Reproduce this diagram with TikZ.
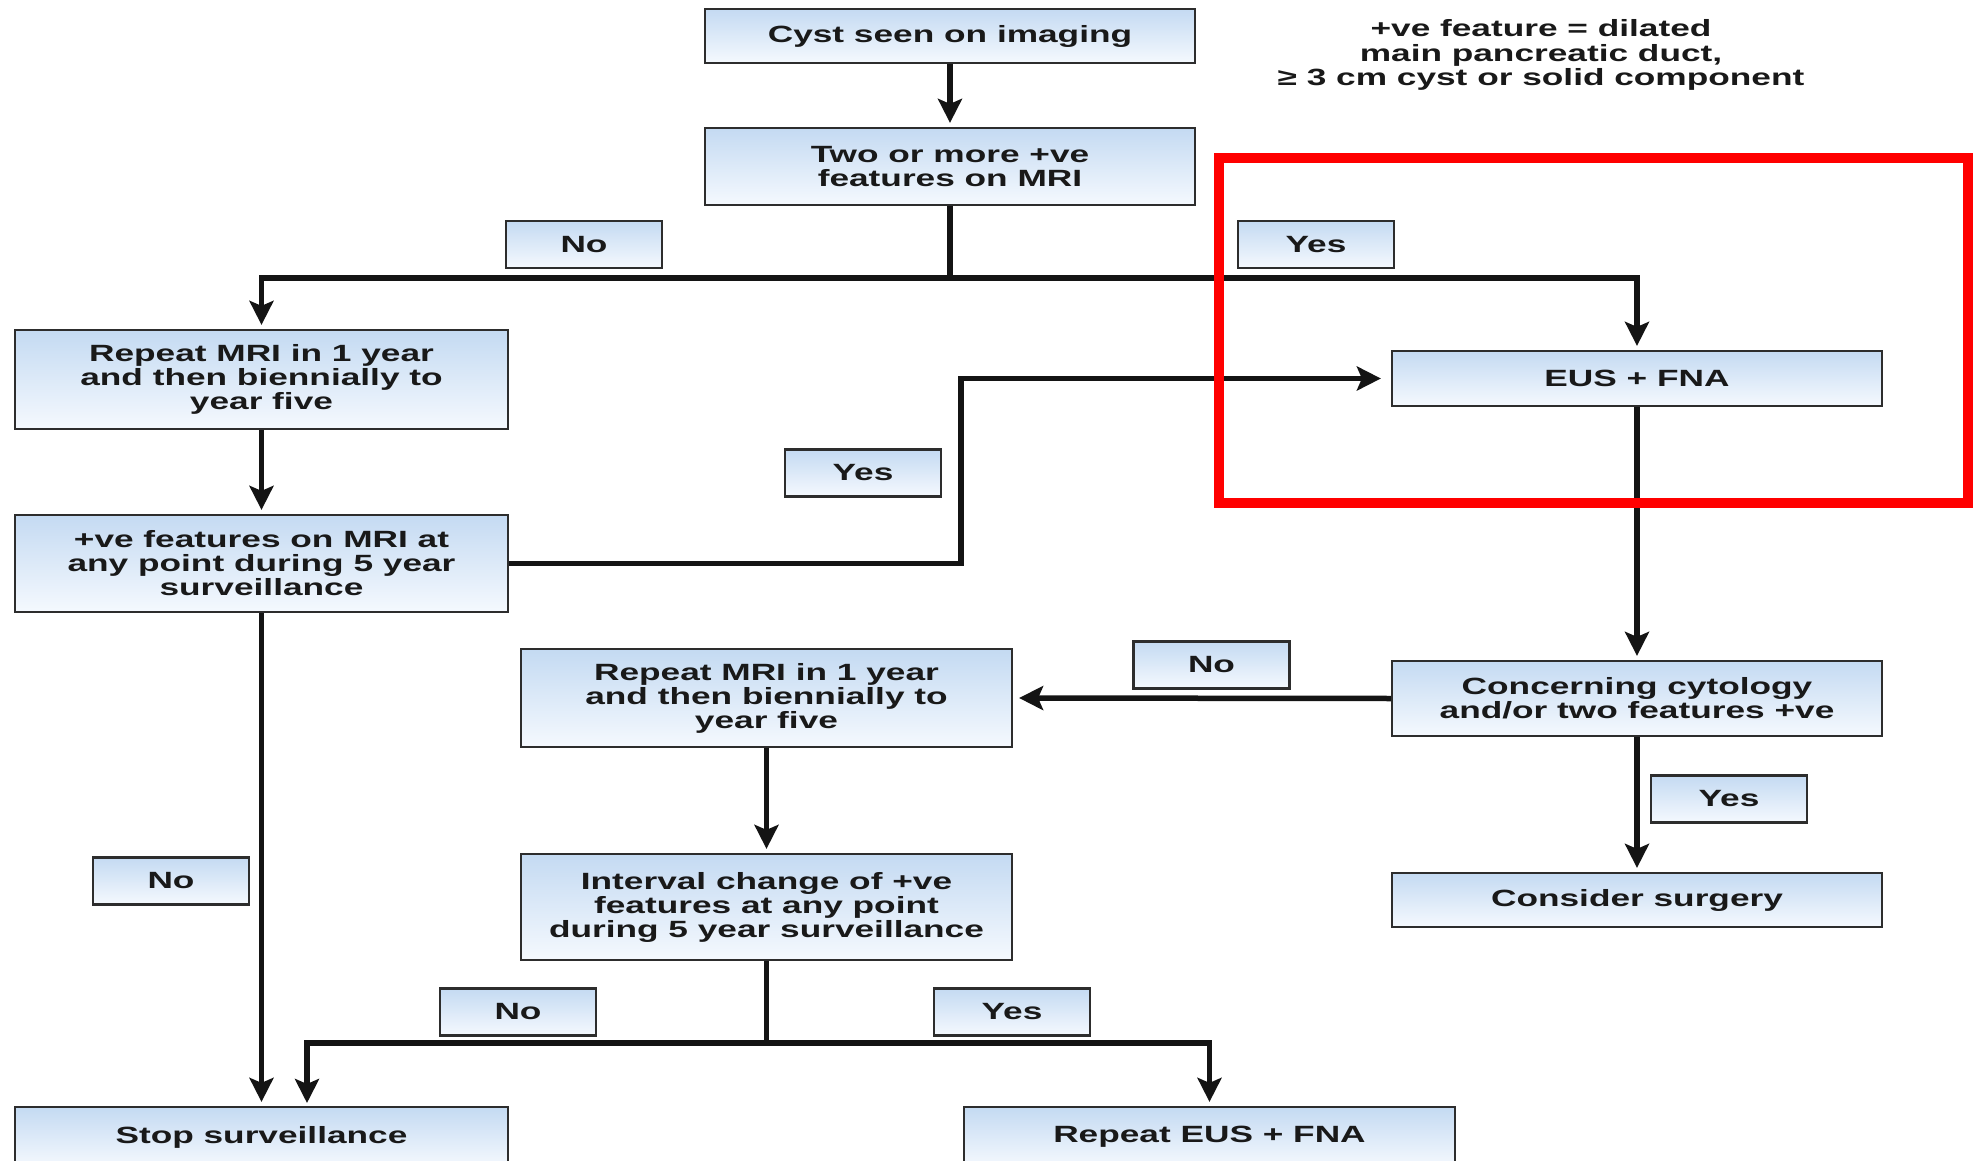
\documentclass[tikz,border=0pt]{standalone}
\usepackage{fontspec}
\newfontfamily\lbfont{Liberation Sans}[FakeStretch=1.5]
\usetikzlibrary{arrows.meta}
\definecolor{boxtop}{RGB}{196,218,242}
\definecolor{boxbot}{RGB}{245,249,254}
\definecolor{boxline}{RGB}{45,45,45}
\definecolor{conn}{RGB}{20,20,20}
\tikzset{
  fbox/.style={draw=boxline, line width=2.2pt, top color=boxtop, bottom color=boxbot,
    inner sep=0pt, align=center, text=black!90,
    font=\lbfont\bfseries\fontsize{23.5}{24}\selectfont},
  lbl/.style={fbox, minimum width=156pt, minimum height=47pt},
  ln/.style={line width=5.5pt, draw=conn},
  arr/.style={ln, -{Stealth[length=24pt,width=24pt,inset=5pt]}, shorten >=4pt},
}
\begin{document}
\begin{tikzpicture}[x=1pt,y=-1pt]
\useasboundingbox (0,0) rectangle (1973,1161);
\clip (0,0) rectangle (1973,1161);
\fill[white] (0,0) rectangle (1973,1161);

% main boxes
\node[fbox, minimum width=490pt, minimum height=54pt] (cyst) at (950,36) {Cyst seen on imaging};
\node[fbox, minimum width=490pt, minimum height=77pt] (two) at (950,166.5) {Two or more +ve\\features on MRI};
\node[fbox, minimum width=493pt, minimum height=99pt] (rep1) at (261.5,379.5) {Repeat MRI in 1 year\\and then biennially to\\year five};
\node[fbox, minimum width=490pt, minimum height=55pt] (eus) at (1637,378.5) {EUS + FNA};
\node[fbox, minimum width=493pt, minimum height=97pt] (pos) at (261.5,563.5) {+ve features on MRI at\\any point during 5 year\\surveillance};
\node[fbox, minimum width=491pt, minimum height=98pt] (rep2) at (766.5,698) {Repeat MRI in 1 year\\and then biennially to\\year five};
\node[fbox, minimum width=490pt, minimum height=75pt] (conc) at (1637,698.5) {Concerning cytology\\and/or two features +ve};
\node[fbox, minimum width=490pt, minimum height=54pt] (surg) at (1637,900) {Consider surgery};
\node[fbox, minimum width=491pt, minimum height=106pt] (intv) at (766.5,907) {Interval change of +ve\\features at any point\\during 5 year surveillance};
\node[fbox, minimum width=493pt, minimum height=60pt] (stop) at (261.5,1137) {Stop surveillance};
\node[fbox, minimum width=491pt, minimum height=60pt] (rep3) at (1209.5,1137) {Repeat EUS + FNA};

% yes / no labels
\node[lbl] (noA) at (584,244.5) {No};
\node[lbl] (yesA) at (1316,244.5) {Yes};
\node[lbl] (yesB) at (863,473) {Yes};
\node[lbl] (noB) at (1211.5,665) {No};
\node[lbl] (yesC) at (1729,799) {Yes};
\node[lbl] (noC) at (171,881) {No};
\node[lbl] (noD) at (518,1012) {No};
\node[lbl] (yesD) at (1012,1012) {Yes};

% note
\node[align=center, text=black!90, font=\lbfont\bfseries\fontsize{23.5}{24.5}\selectfont] (note) at (1541,55)
  {+ve feature = dilated\\main pancreatic duct,\\≥ 3 cm cyst or solid component};

% connectors
\coordinate (sp) at (950,278);
\draw[arr] (cyst.south) -- (two.north);
\draw[ln] (two.south) -- (sp);
\draw[arr] (sp) -| (rep1.north);
\draw[arr] (sp) -| (eus.north);
\draw[arr] (rep1.south) -- (pos.north);
\coordinate (jog) at (961,470);
\draw[arr, shorten >=10pt] (pos.east) -| (jog) |- (eus.west);
\draw[arr] (pos.south) -- (stop.north);
\draw[arr] (eus.south) -- (conc.north);
\draw[arr, shorten >=6pt] (conc.west) -- (rep2.east);
\draw[arr] (conc.south) -- (surg.north);
\draw[arr] (rep2.south) -- (intv.north);
\coordinate (sp2) at (766.5,1043);
\coordinate (stopin) at (307,1107);
\draw[ln] (intv.south) -- (sp2);
\draw[arr] (sp2) -| (stopin);
\draw[arr] (sp2) -| (rep3.north);

% highlight
\draw[red, line width=10pt] (1219,158) rectangle (1968,503);
\end{tikzpicture}
\end{document}
